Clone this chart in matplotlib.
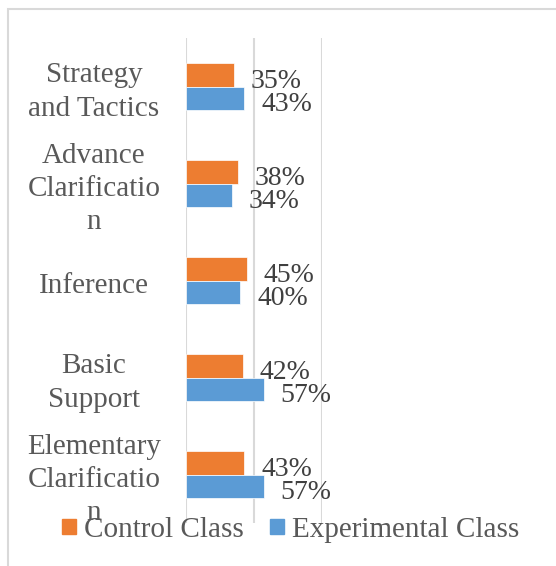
import matplotlib.pyplot as plt
from matplotlib.patches import Patch, Rectangle
from matplotlib.transforms import blended_transform_factory, offset_copy

categories = ["Elementary\nClarificatio\nn", "Basic\nSupport", "Inference",
              "Advance\nClarificatio\nn", "Strategy\nand Tactics"]
control = [0.43, 0.42, 0.45, 0.38, 0.35]
experimental = [0.57, 0.57, 0.40, 0.34, 0.43]

ORANGE = "#ED7D31"
BLUE = "#5B9BD5"
GRID = "#D9D9D9"
TEXT = "#595959"

plt.rcParams["font.family"] = ["Liberation Serif", "DejaVu Serif"]

fig = plt.figure(figsize=(5.56, 5.66), dpi=100)
fig.patches.append(Rectangle((8 / 556, -0.1), 1.2, (566 - 9) / 566 + 0.1,
                             transform=fig.transFigure, fill=False,
                             edgecolor=GRID, linewidth=1.5))

ax = fig.add_axes([186 / 556, 43 / 566, 136 / 556, 485 / 566])
ax.set_xlim(0, 1.0)
ax.set_ylim(-0.5, len(categories) - 0.5)

h = 0.24
ypos = list(range(len(categories)))
ax.barh([y + h / 2 for y in ypos], control, height=h, color=ORANGE,
        edgecolor="white", linewidth=0.5, zorder=3)
ax.barh([y - h / 2 for y in ypos], experimental, height=h, color=BLUE,
        edgecolor="white", linewidth=0.5, zorder=3)

for y, c, e in zip(ypos, control, experimental):
    ax.annotate(f"{round(c * 100)}%", (c, y + h / 2), xytext=(12, -4.5),
                textcoords="offset points", ha="left", va="center",
                fontsize=20, color="#404040", clip_on=False)
    ax.annotate(f"{round(e * 100)}%", (e, y - h / 2), xytext=(12, -4.5),
                textcoords="offset points", ha="left", va="center",
                fontsize=20, color="#404040", clip_on=False)

for x in [0, 0.5, 1.0]:
    ax.axvline(x, color=GRID, linewidth=1.5, zorder=1)

trans = blended_transform_factory(fig.transFigure, ax.transData)
trans = offset_copy(trans, fig=fig, x=0, y=-4, units="points")
for y, label in zip(ypos, categories):
    ax.text(94 / 556, y, label, transform=trans, ha="center", va="center",
            fontsize=21, color=TEXT, linespacing=1.36)

ax.set_xticks([])
ax.set_yticks([])
for s in ax.spines.values():
    s.set_visible(False)
ax.patch.set_alpha(0)

handles = [Patch(color=ORANGE, label="Control Class"),
           Patch(color=BLUE, label="Experimental Class")]
fig.legend(handles=handles, loc="center", bbox_to_anchor=(291 / 556, 36 / 566),
           ncol=2, frameon=False, fontsize=21, handlelength=0.45,
           handleheight=0.45, handletextpad=0.3, columnspacing=0.9,
           labelcolor=TEXT)

fig.savefig("out.png", dpi=100)
